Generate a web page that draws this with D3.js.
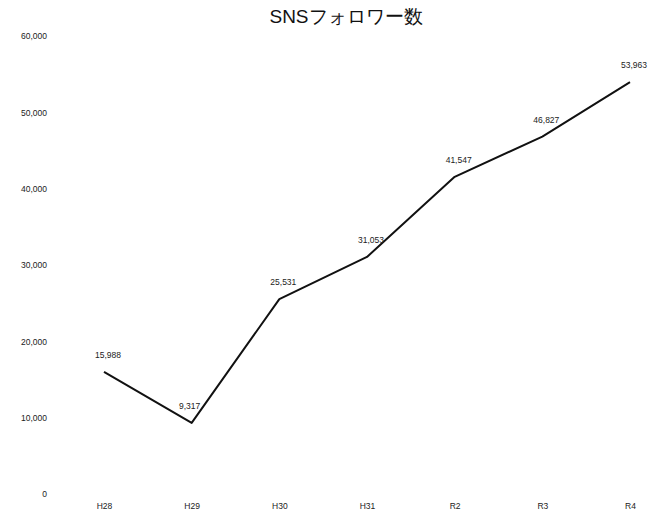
<!DOCTYPE html>
<html><head><meta charset="utf-8">
<script src="https://cdn.jsdelivr.net/npm/d3@7"></script>
<style>
body{margin:0;background:#fff;}
text{font-family:"Liberation Sans","DejaVu Sans",sans-serif;}
</style></head>
<body>
<svg id="c" width="662" height="516"></svg>
<script>
const title = "SNSフォロワー数";
const categories = ["H28","H29","H30","H31","R2","R3","R4"];
const values = [15988, 9317, 25531, 31053, 41547, 46827, 53963];
const yTicks = [0,10000,20000,30000,40000,50000,60000];

const svg = d3.select("#c");
const x = d3.scalePoint().domain(categories).range([104, 630]);
const y = d3.scaleLinear().domain([0,60000]).range([494, 36]);
const fmt = d3.format(",");

svg.append("text").attr("x",346).attr("y",23).attr("text-anchor","middle")
  .attr("font-family","'Noto Sans CJK JP',sans-serif").attr("font-size",19).attr("fill","#111").text(title);

const yAxis = d3.axisLeft(y).tickValues(yTicks).tickFormat(fmt).tickSize(0).tickPadding(0);
const ya = svg.append("g").attr("transform","translate(47,0)").call(yAxis);
ya.select(".domain").remove();
ya.selectAll("text").attr("font-size",8.5).attr("fill","#222").attr("dy","0.32em");

const xAxis = d3.axisBottom(x).tickSize(0).tickPadding(0);
const xa = svg.append("g").attr("transform","translate(0,503)").call(xAxis);
xa.select(".domain").remove();
xa.selectAll("text").attr("font-size",8.5).attr("fill","#222").attr("dy","0.71em");

const line = d3.line().x((d,i)=>x(categories[i])).y(d=>y(d));
svg.append("path").datum(values).attr("d",line).attr("fill","none")
  .attr("stroke","#111").attr("stroke-width",2).attr("stroke-linejoin","round");

svg.selectAll(".lbl").data(values).enter().append("text")
  .attr("x",(d,i)=>x(categories[i])+ (i===1?-2:4))
  .attr("y",d=>y(d)-14)
  .attr("text-anchor","middle").attr("font-size",8.5).attr("fill","#222")
  .text(d=>fmt(d));
</script>
</body></html>
